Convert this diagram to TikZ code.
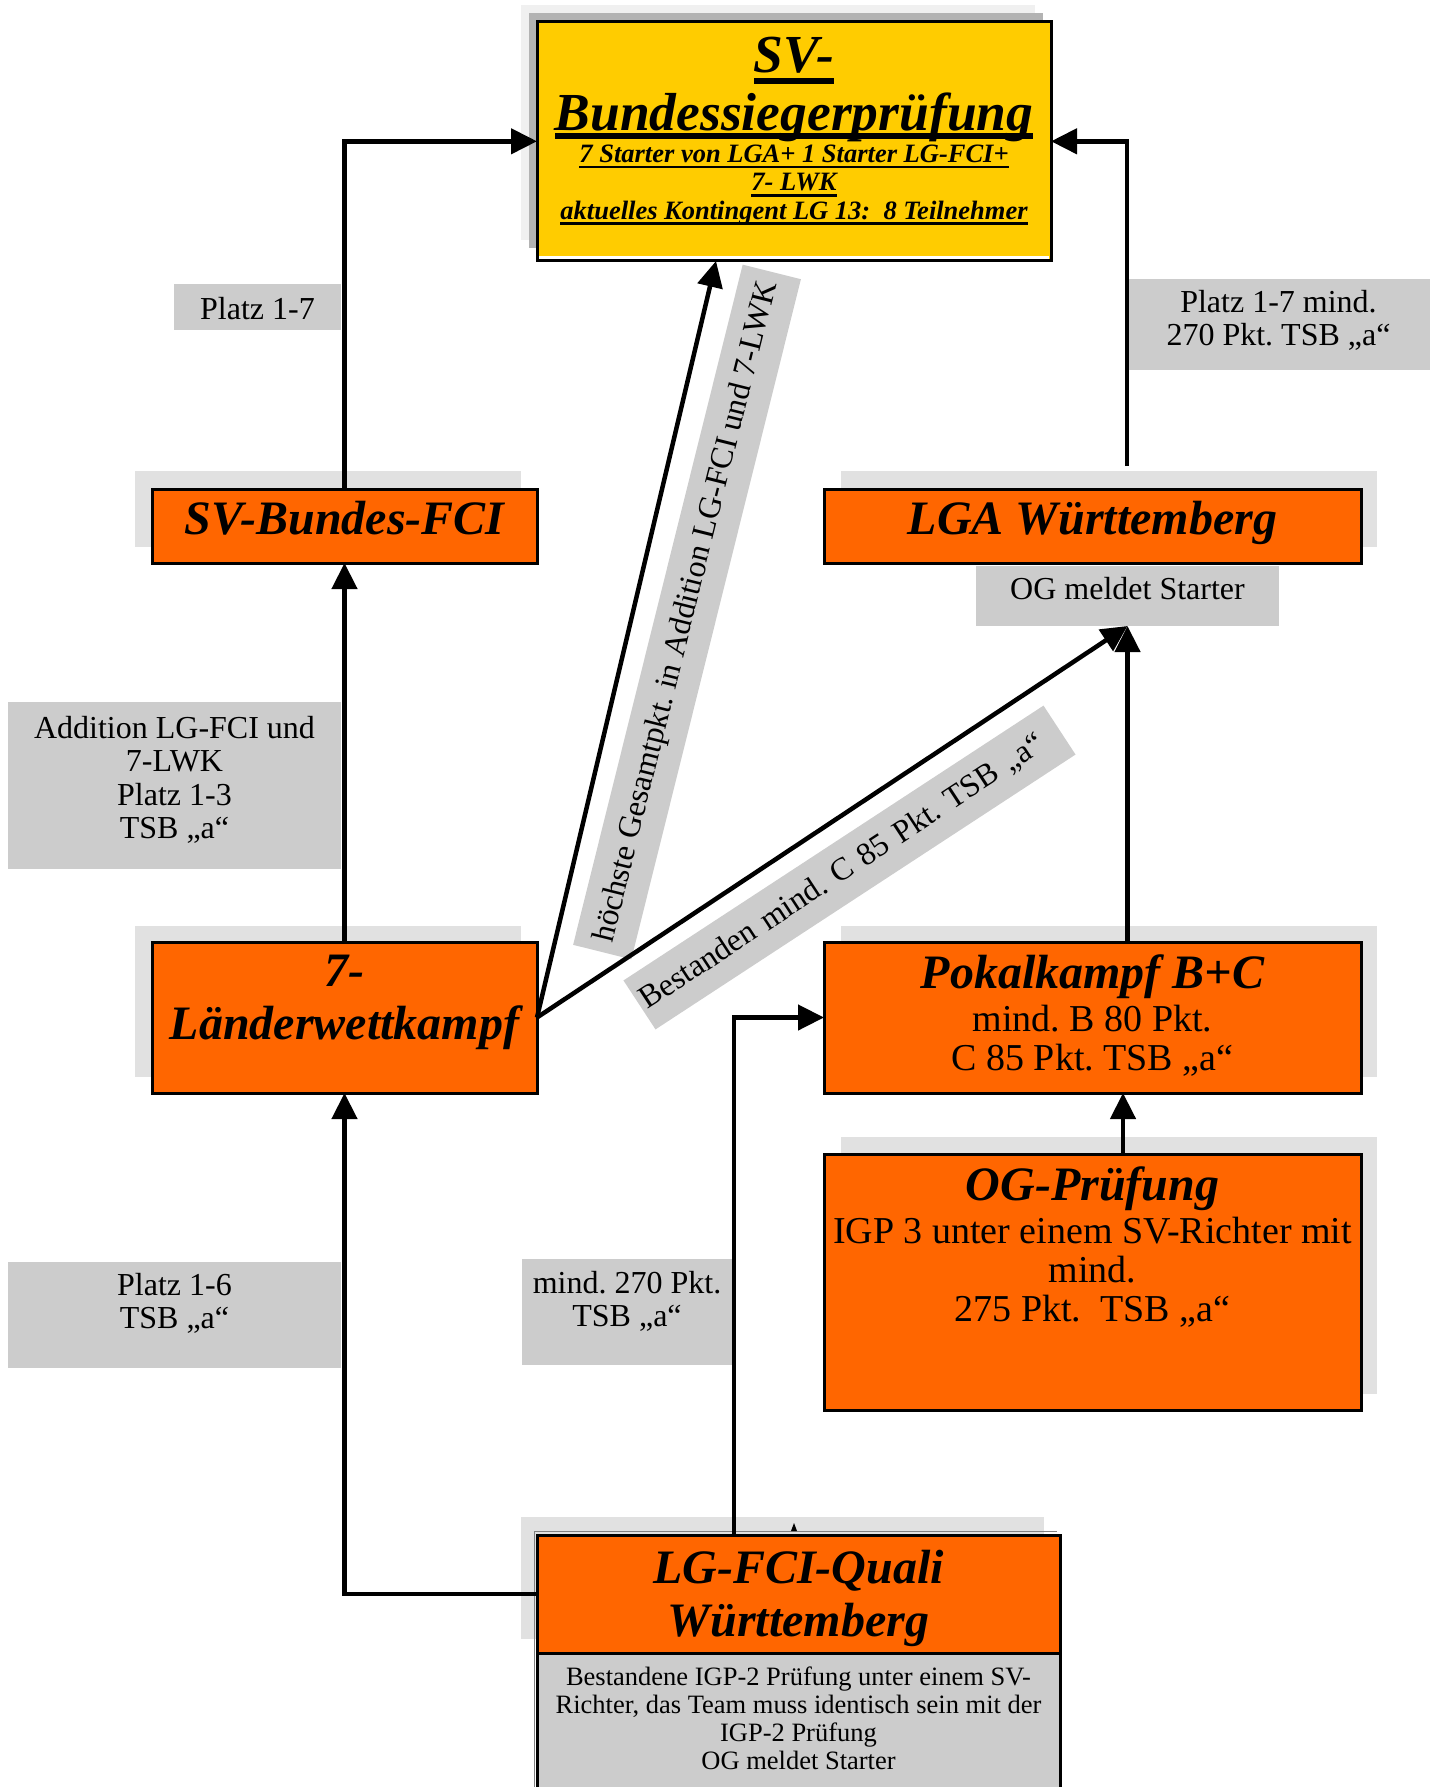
\documentclass[tikz,border=0pt]{standalone}
\usepackage{fontspec}
\setmainfont{Liberation Serif}
\usetikzlibrary{arrows.meta,calc}
\definecolor{orng}{HTML}{FF6600}
\definecolor{ylw}{HTML}{FFCC00}
\definecolor{lbl}{HTML}{CCCCCC}
\definecolor{shd}{HTML}{E1E1E1}
\definecolor{shdY}{HTML}{B3B3B3}
\definecolor{shdYl}{HTML}{F0F0F0}
\frenchspacing
\newsavebox\ulbx
\newcommand\myul[3]{\leavevmode\sbox\ulbx{#3}\rlap{\rule[-#2]{\wd\ulbx}{#1}}\usebox\ulbx}
\newcommand\tbox[2]{\parbox[t]{#1}{\centering\lineskiplimit=-100pt\relax #2}}
\newcommand\ftitle{\fontsize{48}{53}\selectfont\bfseries\itshape}
\newcommand\fhuge{\fontsize{53.5}{58}\selectfont\bfseries\itshape}
\newcommand\fsub{\fontsize{26.5}{28.5}\selectfont\bfseries\itshape}
\newcommand\flab{\fontsize{32}{33.5}\selectfont}
\newcommand\fbody{\fontsize{38}{39}\selectfont}
\newcommand\finfo{\fontsize{26.5}{28}\selectfont}
\begin{document}
\begin{tikzpicture}[x=1pt,y=-1pt,
  obox/.style={draw=black,line width=3pt,fill=orng,anchor=north west,inner sep=0pt,outer sep=0pt},
  lbox/.style={fill=lbl,anchor=north west,inner sep=0pt,outer sep=0pt,font=\flab},
  band/.style={fill=lbl,inner sep=0pt,outer sep=0pt,font=\flab},
  arr/.style={line width=4.5pt,-{Triangle[length=26pt,width=25pt]}}]
\useasboundingbox (0,0) rectangle (1438,1787);
% shadows
\fill[shdYl] (521,4.6) rectangle (1035,240);
\fill[shdY] (529,13) rectangle (1043,248);
\fill[shd] (135,471) rectangle (521,547);
\fill[shd] (841,471) rectangle (1377,547);
\fill[shd] (135,926) rectangle (521,1077);
\fill[shd] (841,926) rectangle (1377,1077);
\fill[shd] (841,1137) rectangle (1377,1394);
\fill[shd] (521,1517) rectangle (1044,1639);
% top box
\node[obox,fill=ylw,text height=51.4pt,text depth=188pt] (svb) at (537,21.6)
  {\tbox{514pt}{{\fhuge \myul{6pt}{11pt}{SV-}\par \myul{6pt}{8.5pt}{Bundessiegerprüfung}\par}\vspace{3pt}{\fsub \myul{2.7pt}{6pt}{7 Starter von LGA+ 1 Starter LG-FCI+}\par \myul{2.7pt}{5.7pt}{7- LWK}\par \myul{3pt}{5.6pt}{aktuelles Kontingent LG 13:~~8 Teilnehmer}\par}}};
\draw[white,line width=3pt] (539,257.5) -- (1049,257.5);
% orange boxes
\node[obox,text height=45pt,text depth=29pt] (svf) at (152,489) {\tbox{385pt}{\ftitle SV-Bundes-FCI}};
\node[obox,text height=45pt,text depth=29pt] (lga) at (824,489) {\tbox{537pt}{\ftitle LGA Württemberg}};
\node[obox,text height=44pt,text depth=107pt] (lw) at (152,942) {\tbox{385pt}{\ftitle 7-\\Länderwettkampf}};
\node[obox,text height=46pt,text depth=105pt] (pokal) at (824,942)
  {\tbox{537pt}{{\ftitle Pokalkampf B+C\par}\vspace{4pt}{\fbody mind. B 80 Pkt.\\C 85 Pkt. TSB „a“\par}}};
\node[obox,text height=46pt,text depth=210pt] (ogp) at (824,1154)
  {\tbox{537pt}{{\ftitle OG-Prüfung\par}\vspace{4pt}{\fbody IGP 3 unter einem SV-Richter mit\\mind.\\275 Pkt.~~TSB „a“\par}}};
% LG-FCI-Quali
\draw[gray,line width=1pt] (534,1531) -- (1057,1531);
\draw[gray,line width=1pt] (534,1531) -- (534,1800);
\node[obox,text height=48pt,text depth=70pt] (lgf) at (537,1535) {\tbox{523pt}{\ftitle LG-FCI-Quali\\Württemberg}};
\node[obox,fill=lbl,text height=32pt,text depth=118pt] (lgfi) at (537,1653)
  {\tbox{523pt}{\finfo Bestandene IGP-2 Prüfung unter einem SV-\\Richter, das Team muss identisch sein mit der\\IGP-2 Prüfung\\OG meldet Starter}};
\fill (791,1531) -- (794,1523) -- (797,1531) -- cycle;
% labels
\node[lbox,text height=35pt,text depth=11pt] (l17) at (174,284) {\tbox{167pt}{Platz 1-7}};
\node[lbox,text height=33pt,text depth=58pt] (l17m) at (1127,279) {\tbox{303pt}{Platz 1-7 mind.\\270 Pkt. TSB „a“}};
\node[lbox,text height=33pt,text depth=27pt] (ogm) at (976,566) {\tbox{303pt}{OG meldet Starter}};
\node[lbox,text height=36pt,text depth=131pt] (ladd) at (8,702) {\tbox{333pt}{Addition LG-FCI und\\7-LWK\\Platz 1-3\\TSB „a“}};
\node[lbox,text height=33pt,text depth=73pt] (l16) at (8,1262) {\tbox{333pt}{Platz 1-6\\TSB „a“}};
\node[lbox,text height=34pt,text depth=72pt] (l270) at (522,1259) {\tbox{210pt}{mind. 270 Pkt.\\TSB „a“}};
% rotated bands
\node[band,rotate=76,minimum width=701pt,minimum height=60pt] (b1) at (687,612) {höchste Gesamtpkt. in Addition LG-FCI und 7-LWK};
\node[band,rotate=33.2,minimum width=502pt,minimum height=58.5pt,text width=494pt,align=left] (b2) at (849.5,867.5) {Bestanden mind. C 85 Pkt. TSB „a“};
% connectors
\coordinate (lgaout) at (1127,466);
\draw[arr] (svf.north) |- (svb.west);
\draw[arr] (lgaout) |- (svb.east);
\draw[arr] (lw.north) -- (svf.south);
\draw[arr] (lw.east) -- ($(svb.south west)+(179,0)$);
\draw[arr] (lw.east) -- (ogm.south);
\draw[arr] (ogm.south |- pokal.north) -- (ogm.south);
\draw[arr] ($(ogp.north)+(30.5,0)$) -- ($(pokal.south)+(30.5,0)$);
\draw[arr] (lgf.west) -| (lw.south);
\draw[arr] ($(lgf.north west)+(197,0)$) |- (pokal.west);
\end{tikzpicture}
\end{document}
